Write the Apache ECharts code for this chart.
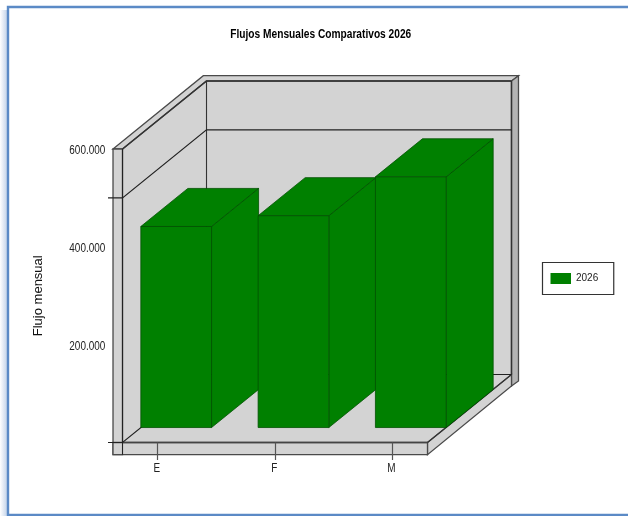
<!DOCTYPE html>
<html>
<head>
<meta charset="utf-8">
<style>html,body{margin:0;padding:0;background:#fff}#c{width:628px;height:516px}</style>
<script src="https://cdn.jsdelivr.net/npm/echarts@6/dist/echarts.min.js"></script>
</head>
<body>
<div id="c"></div>
<script>
const chartTitle = 'Flujos Mensuales Comparativos 2026';
const yTitle = 'Flujo mensual';
const seriesName = '2026';
const categories = ['E', 'F', 'M'];
const values = [411000, 433000, 512500];
const yTickValues = [200000, 400000, 600000];
const yTickLabels = ['200.000', '400.000', '600.000'];
const yMajorLines = [0, 500000];
const SANS = '"Liberation Sans",sans-serif';

const DEPTH_X = 84, DEPTH_Y = -68;      // full wall depth projection
const BAR_Z0 = 0.22, BAR_Z1 = 0.78;     // bar front/back in depth fraction
const BAR_W = 0.603;                    // bar width as fraction of band
const PLANE_L = 0.3, PLANE_R = 0.3;     // plane extent past first/last band centre
const SLAB = 9.5, SLAB_B = 12.2;
const WALL = '#d3d3d3', SLABFILL = '#d3d3d3', EDGE = '#4a4a4a', LINE = '#222';
const NARROW_SCALE = 0.83;

function poly(pts, fill, stroke, lw) {
  return { type: 'polygon', shape: { points: pts },
    style: { fill: fill, stroke: stroke, lineWidth: lw === undefined ? 1.3 : lw } };
}
function line(pts, stroke, lw) {
  return { type: 'polyline', shape: { points: pts },
    style: { fill: null, stroke: stroke || LINE, lineWidth: lw || 1.1 } };
}
function narrowText(x, y, text, align) {
  return { type: 'text', x: x, y: y, scaleX: NARROW_SCALE,
    style: { x: 0, y: 0, text: text, align: align, verticalAlign: 'middle',
      font: '12px ' + SANS, fill: '#222' } };
}

function renderFrame(params, api) {
  const c0 = api.coord([0, 0]), c2 = api.coord([categories.length - 1, 600000]);
  const band = api.coord([1, 0])[0] - c0[0];
  const xL = c0[0] - PLANE_L * band, xR = api.coord([categories.length - 1, 0])[0] + PLANE_R * band;
  const y0 = c0[1], yT = c2[1];
  const dx = DEPTH_X, dy = DEPTH_Y;
  const tx = 7, ty = -5.3;
  const kids = [
    poly([[xL, yT], [xL + dx, yT + dy], [xL + dx, y0 + dy], [xL, y0]], WALL, 'none'),
    poly([[xL + dx, yT + dy], [xR + dx, yT + dy], [xR + dx, y0 + dy], [xL + dx, y0 + dy]], WALL, 'none'),
    poly([[xL, y0], [xR, y0], [xR + dx, y0 + dy], [xL + dx, y0 + dy]], WALL, 'none'),
    poly([[xL - SLAB, yT], [xL + dx - 3.2, yT + dy + ty], [xR + dx + tx, yT + dy + ty], [xR + dx, yT + dy], [xL + dx, yT + dy], [xL, yT]], SLABFILL, EDGE),
    poly([[xR + dx, yT + dy], [xR + dx + tx, yT + dy + ty], [xR + dx + tx, y0 + dy + 6.5], [xR + dx, y0 + dy + SLAB_B - 0.7]], '#b4b4b4', EDGE),
    poly([[xR, y0], [xR + dx, y0 + dy], [xR + dx, y0 + dy + SLAB_B - 0.7], [xR, y0 + SLAB_B]], SLABFILL, EDGE),
    poly([[xL - SLAB, yT], [xL, yT], [xL, y0 + SLAB_B], [xL - SLAB, y0 + SLAB_B]], SLABFILL, EDGE),
    poly([[xL - SLAB, y0], [xR, y0], [xR, y0 + SLAB_B], [xL - SLAB, y0 + SLAB_B]], SLABFILL, EDGE),
    line([[xL, yT], [xL, y0 + SLAB_B]]),
    line([[xL + dx, yT + dy], [xL + dx, y0 + dy]], '#333'),
    line([[xR + dx, yT + dy], [xR + dx, y0 + dy]], '#333', 1.4),
    line([[xL, yT], [xL + dx, yT + dy], [xR + dx, yT + dy]], '#333', 1.4),
    line([[xL, y0], [xR, y0]], '#444', 1.5),
    line([[xR, y0], [xR + dx, y0 + dy]], '#333'),
    line([[xL + dx, y0 + dy], [xR + dx, y0 + dy]], LINE)
  ];
  yMajorLines.forEach(function (v) {
    const y = api.coord([0, v])[1];
    kids.push(line([[xL - 14.5, y], [xL, y], [xL + dx, y + dy], [xR + dx, y + dy]].slice(0, v === 0 ? 3 : 4), LINE));
  });
  yTickValues.forEach(function (v, i) {
    kids.push(narrowText(xL - 17.2, api.coord([0, v])[1] + 1.6, yTickLabels[i], 'right'));
  });
  categories.forEach(function (name, i) {
    kids.push(narrowText(api.coord([i, 0])[0] - 0.8, y0 + 25.8, name, 'center'));
  });
  return { type: 'group', children: kids };
}

function renderBar(params, api) {
  const i = api.value(0), v = api.value(1);
  const base = api.coord([i, 0]), top = api.coord([i, v]);
  const band = api.coord([1, 0])[0] - api.coord([0, 0])[0];
  const w = BAR_W * band;
  const fx = BAR_Z0 * DEPTH_X - w / 2 + base[0];
  const fb = base[1] + BAR_Z0 * DEPTH_Y, ft = top[1] + BAR_Z0 * DEPTH_Y;
  const ddx = (BAR_Z1 - BAR_Z0) * DEPTH_X, ddy = (BAR_Z1 - BAR_Z0) * DEPTH_Y;
  const col = api.visual('color'), edge = '#005000';
  return { type: 'group', children: [
    poly([[fx + w, ft], [fx + w + ddx, ft + ddy], [fx + w + ddx, fb + ddy], [fx + w, fb]], col, edge, 0.8),
    poly([[fx, ft], [fx + ddx, ft + ddy], [fx + w + ddx, ft + ddy], [fx + w, ft]], col, edge, 0.8),
    poly([[fx, ft], [fx + w, ft], [fx + w, fb], [fx, fb]], col, edge, 0.8)
  ]};
}

const chart = echarts.init(document.getElementById('c'), null, { renderer: 'canvas' });
chart.setOption({
  animation: false,
  backgroundColor: '#fff',
  legend: {
    data: [seriesName], left: 542.5, top: 262.5, orient: 'vertical',
    padding: [10.5, 15.5, 10.5, 8], itemWidth: 20.5, itemHeight: 11, itemGap: 0,
    borderColor: '#333', borderWidth: 1.2, backgroundColor: '#fff',
    icon: 'rect',
    textStyle: { fontFamily: SANS, fontSize: 10, color: '#222' }
  },
  grid: { left: 99.05, top: 149, width: 351.9, height: 293.5 },
  xAxis: {
    type: 'category', data: categories, z: 5,
    axisLine: { show: false },
    axisTick: { show: true, alignWithLabel: true, length: 17.5, lineStyle: { color: '#555', width: 1.2 } },
    axisLabel: { show: false }
  },
  yAxis: {
    type: 'value', min: 0, max: 600000, interval: 200000, offset: -23.45,
    name: yTitle, nameLocation: 'middle', nameGap: 78,
    nameTextStyle: { fontFamily: SANS, fontSize: 13, color: '#111' },
    axisLine: { show: false }, axisTick: { show: false }, splitLine: { show: false },
    axisLabel: { show: false }
  },
  series: [
    { type: 'custom', name: 'frame', silent: true, z: 1, clip: false,
      renderItem: renderFrame, data: [[0, 0]], encode: { x: 0, y: 1 } },
    { type: 'custom', name: seriesName, z: 2, clip: false,
      itemStyle: { color: '#008000' },
      renderItem: renderBar,
      data: values.map(function (v, i) { return [i, v]; }), encode: { x: 0, y: 1 } }
  ],
  graphic: [
    { type: 'text', x: 320.75, y: 34.2, scaleX: 0.848, z: 50, silent: true,
      style: { x: 0, y: 0, text: chartTitle, align: 'center', verticalAlign: 'middle',
        font: 'bold 12px ' + SANS, fill: '#000' } },
    { type: 'rect', z: 100, silent: true, shape: { x: 0, y: 10, width: 7, height: 506 },
      style: { fill: new echarts.graphic.LinearGradient(0, 0, 1, 0, [
        { offset: 0, color: '#ffffff' }, { offset: 1, color: '#c4d4ea' }]) } },
    { type: 'rect', z: 101, silent: true, shape: { x: 8, y: 7, width: 640, height: 508 },
      style: { fill: 'none', stroke: '#5b8ac6', lineWidth: 2.4 } }
  ]
});
</script>
</body>
</html>
